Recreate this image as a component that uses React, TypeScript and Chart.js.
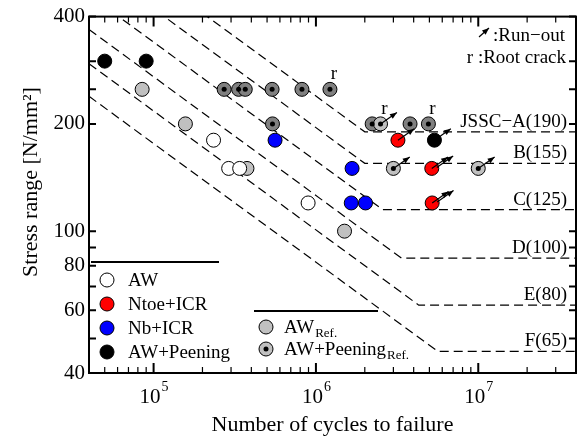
import React, { useEffect, useRef } from 'react';
import { Chart, registerables } from 'chart.js';

Chart.register(...registerables);

// ---------- data ----------
const awN = [2.34e5, 2.9e5, 3.39e5, 8.95e5];
const awS = [180, 150, 150, 120];
const ntoeN = [3.2e6, 5.17e6, 5.2e6];
const ntoeS = [180, 150, 120];
const nbN = [5.6e5, 1.67e6, 1.65e6, 2.02e6];
const nbS = [180, 150, 120, 120];
const peenN = [5e4, 9e4, 5.37e6];
const peenS = [300, 300, 180];
const awRefN = [8.5e4, 1.57e5, 3.76e5, 1.5e6];
const awRefS = [250, 200, 150, 100];
const peenRefN = [2.72e5, 3.34e5, 3.67e5, 5.37e5, 8.2e5, 1.22e6, 5.4e5, 2.22e6, 3.8e6, 4.93e6];
const peenRefS = [250, 250, 250, 250, 250, 250, 200, 200, 200, 200];
const peenRefRunN = [2.5e6, 3.0e6, 1.0e7];
const peenRefRunS = [200, 150, 150];

const runoutN = [3.2e6, 5.17e6, 5.2e6, 5.37e6, 2.5e6, 3.0e6, 1.0e7];
const runoutS = [180, 150, 120, 180, 200, 150, 150];
const runoutCount = [1, 2, 2, 1, 1, 1, 1];

const rootN = [1.22e6, 2.5e6, 4.93e6];
const rootS = [250, 200, 200];

const curveLabels = ['JSSC\u2212A(190)', 'B(155)', 'C(125)', 'D(100)', 'E(80)', 'F(65)'];
const curveStartN = 4e4;
const curveStartS = [700, 571, 460, 368, 295, 239];
const curveKneeN = [2e6, 2e6, 2.57e6, 3.37e6, 4.3e6, 5.64e6];
const curveCutoffS = [190, 155, 115, 84, 62, 46];
const curveEndN = 4e7;

const X_MIN = 4e4;
const X_MAX = 4e7;
const Y_MIN = 40;
const Y_MAX = 400;
const xLabelValues = [1e5, 1e6, 1e7];
const xLabelExps = ['5', '6', '7'];
const yTickValues = [40, 50, 60, 70, 80, 90, 100, 200, 250, 300, 400];
const yTickLabels = [40, 60, 80, 100, 200, 400];

const legend1Labels = ['AW', 'Ntoe+ICR', 'Nb+ICR', 'AW+Peening'];
const legend1Colors = ['#ffffff', '#ff0000', '#0000ff', '#000000'];
const legend2Labels = ['AW', 'AW+Peening'];
const legend2Sub = 'Ref.';
const yTitle = 'Stress range [N/mm\u00B2]';
const xTitle = 'Number of cycles to failure';

const FONT = '"Liberation Serif", "Times New Roman", serif';
const C_WHITE = '#ffffff';
const C_RED = '#ff0000';
const C_BLUE = '#0000ff';
const C_BLACK = '#000000';
const C_LGRAY = '#c0c0c0';
const C_DGRAY = '#808080';

const pts = (xs: number[], ys: number[]) => xs.map((x, i) => ({ x, y: ys[i] }));

function circle(ctx: CanvasRenderingContext2D, x: number, y: number, r: number, fill: string, dot: boolean) {
  ctx.beginPath();
  ctx.arc(x, y, r, 0, Math.PI * 2);
  ctx.fillStyle = fill;
  ctx.fill();
  ctx.lineWidth = 1;
  ctx.strokeStyle = '#000';
  ctx.stroke();
  if (dot) {
    ctx.beginPath();
    ctx.arc(x, y, 2.5, 0, Math.PI * 2);
    ctx.fillStyle = '#000';
    ctx.fill();
  }
}

function arrow(ctx: CanvasRenderingContext2D, x0: number, y0: number, x1: number, y1: number) {
  ctx.beginPath();
  ctx.moveTo(x0, y0);
  ctx.lineTo(x1, y1);
  ctx.lineWidth = 1.2;
  ctx.strokeStyle = '#000';
  ctx.setLineDash([]);
  ctx.stroke();
  const a = Math.atan2(y1 - y0, x1 - x0);
  const L = 7;
  const W = 2.8;
  ctx.beginPath();
  ctx.moveTo(x1, y1);
  ctx.lineTo(x1 - L * Math.cos(a) + W * Math.sin(a), y1 - L * Math.sin(a) - W * Math.cos(a));
  ctx.lineTo(x1 - L * Math.cos(a) - W * Math.sin(a), y1 - L * Math.sin(a) + W * Math.cos(a));
  ctx.closePath();
  ctx.fillStyle = '#000';
  ctx.fill();
}

const decorPlugin = {
  id: 'decor',
  afterDraw(chart: any) {
    const ctx: CanvasRenderingContext2D = chart.ctx;
    const xs = chart.scales.x;
    const ys = chart.scales.y;
    const { left, right, top, bottom } = chart.chartArea;
    ctx.save();
    ctx.setLineDash([]);

    // run-out arrows
    const ang = (35 * Math.PI) / 180;
    const len = 20;
    runoutN.forEach((n, i) => {
      const px = xs.getPixelForValue(n);
      const py = ys.getPixelForValue(runoutS[i]);
      for (let k = 0; k < runoutCount[i]; k++) {
        const ox = px + k * 5;
        const oy = py - k * 1;
        arrow(ctx, ox, oy, ox + len * Math.cos(ang), oy - len * Math.sin(ang));
      }
    });

    // root crack markers
    ctx.fillStyle = '#000';
    ctx.font = `19px ${FONT}`;
    ctx.textAlign = 'center';
    ctx.textBaseline = 'alphabetic';
    rootN.forEach((n, i) => {
      const px = xs.getPixelForValue(n);
      const py = ys.getPixelForValue(rootS[i]);
      ctx.fillText('r', px + 4, py - 10);
    });

    // design curve labels
    ctx.textAlign = 'right';
    ctx.font = `19px ${FONT}`;
    curveLabels.forEach((lab, i) => {
      const py = ys.getPixelForValue(curveCutoffS[i]);
      ctx.fillText(lab, right - 9, py - 5);
    });

    // frame
    ctx.strokeStyle = '#000';
    ctx.lineWidth = 2;
    ctx.strokeRect(left, top, right - left, bottom - top);

    // x ticks
    for (let d = 4; d <= 7; d++) {
      for (let k = 1; k <= 9; k++) {
        const v = k * Math.pow(10, d);
        if (v < X_MIN - 1 || v > X_MAX + 1) continue;
        const px = xs.getPixelForValue(v);
        const major = k === 1;
        const tl = major ? 10 : 6;
        ctx.lineWidth = major ? 2 : 1.2;
        ctx.beginPath();
        ctx.moveTo(px, bottom);
        ctx.lineTo(px, bottom - tl);
        ctx.moveTo(px, top);
        ctx.lineTo(px, top + tl);
        ctx.stroke();
      }
    }
    // y ticks
    yTickValues.forEach((v) => {
      const py = ys.getPixelForValue(v);
      ctx.lineWidth = 2;
      ctx.beginPath();
      ctx.moveTo(left, py);
      ctx.lineTo(left + 7, py);
      ctx.moveTo(right, py);
      ctx.lineTo(right - 7, py);
      ctx.stroke();
    });

    // x tick labels 10^n
    ctx.fillStyle = '#000';
    ctx.textAlign = 'left';
    ctx.textBaseline = 'alphabetic';
    xLabelValues.forEach((v, i) => {
      const px = xs.getPixelForValue(v);
      ctx.font = `21px ${FONT}`;
      const w1 = ctx.measureText('10').width;
      ctx.font = `14px ${FONT}`;
      const w2 = ctx.measureText(xLabelExps[i]).width;
      const x0 = px - (w1 + w2) / 2;
      ctx.font = `21px ${FONT}`;
      ctx.fillText('10', x0, bottom + 30);
      ctx.font = `14px ${FONT}`;
      ctx.fillText(xLabelExps[i], x0 + w1 + 1, bottom + 18);
    });

    // y title (rotated)
    ctx.save();
    ctx.translate(31, 182);
    ctx.rotate(-Math.PI / 2);
    ctx.font = `22px ${FONT}`;
    ctx.textAlign = 'center';
    ctx.textBaseline = 'middle';
    ctx.fillStyle = '#000';
    ctx.fillText(yTitle, 0, 0);
    ctx.restore();

    // legend 1
    ctx.lineWidth = 2;
    ctx.beginPath();
    ctx.moveTo(left + 2, 262);
    ctx.lineTo(219, 262);
    ctx.stroke();
    legend1Labels.forEach((lab, i) => {
      const cy = 280 + i * 24;
      circle(ctx, 107, cy, 7, legend1Colors[i], false);
      ctx.fillStyle = '#000';
      ctx.font = `19px ${FONT}`;
      ctx.textAlign = 'left';
      ctx.textBaseline = 'alphabetic';
      ctx.fillText(lab, 128, cy + 6);
    });

    // legend 2
    ctx.lineWidth = 2;
    ctx.beginPath();
    ctx.moveTo(254, 311);
    ctx.lineTo(378, 311);
    ctx.stroke();
    legend2Labels.forEach((lab, i) => {
      const cy = 327 + i * 22;
      circle(ctx, 266, cy, 7, C_LGRAY, i === 1);
      ctx.fillStyle = '#000';
      ctx.font = `19px ${FONT}`;
      ctx.textAlign = 'left';
      ctx.fillText(lab, 284, cy + 6);
      const w = ctx.measureText(lab).width;
      ctx.font = `13px ${FONT}`;
      ctx.fillText(legend2Sub, 284 + w + 1, cy + 10);
    });

    // annotation top-right
    arrow(ctx, 479, 37, 489, 28);
    ctx.fillStyle = '#000';
    ctx.font = `19px ${FONT}`;
    ctx.textAlign = 'right';
    ctx.textBaseline = 'alphabetic';
    ctx.fillText(':Run\u2212out', 565, 41);
    ctx.fillText('r :Root crack', 566, 63);

    ctx.restore();
  },
};

export default function App() {
  const ref = useRef<HTMLCanvasElement | null>(null);
  useEffect(() => {
    if (!ref.current) return;
    const curveSets = curveLabels.map((lab, i) => ({
      type: 'line' as const,
      label: lab,
      data: [
        { x: curveStartN, y: curveStartS[i] },
        { x: curveKneeN[i], y: curveCutoffS[i] },
        { x: curveEndN, y: curveCutoffS[i] },
      ],
      borderColor: '#000',
      borderWidth: 1.2,
      borderDash: [9, 5],
      pointRadius: 0,
      fill: false,
      tension: 0,
      order: 20,
    }));
    const pointSet = (label: string, data: any[], color: string, order: number) => ({
      type: 'scatter' as const,
      label,
      data,
      pointRadius: 7,
      pointBackgroundColor: color,
      pointBorderColor: '#000',
      pointBorderWidth: 1,
      showLine: false,
      order,
    });
    const dotData = [...pts(peenRefN, peenRefS), ...pts(peenRefRunN, peenRefRunS)];
    const chart = new Chart(ref.current, {
      type: 'scatter',
      data: {
        datasets: [
          {
            type: 'scatter',
            label: 'dots',
            data: dotData,
            pointRadius: 2.5,
            pointBackgroundColor: '#000',
            pointBorderWidth: 0,
            order: 0,
          } as any,
          pointSet('AW', pts(awN, awS), C_WHITE, 2),
          pointSet('Ntoe+ICR', pts(ntoeN, ntoeS), C_RED, 3),
          pointSet('Nb+ICR', pts(nbN, nbS), C_BLUE, 4),
          pointSet('AW+Peening', pts(peenN, peenS), C_BLACK, 5),
          pointSet('AW Ref.', pts(awRefN, awRefS), C_LGRAY, 6),
          pointSet('AW+Peening Ref.', pts(peenRefN, peenRefS), C_DGRAY, 7),
          pointSet('AW+Peening Ref. run-out', pts(peenRefRunN, peenRefRunS), C_LGRAY, 1),
          ...curveSets,
        ] as any,
      },
      options: {
        responsive: false,
        animation: false,
        events: [],
        layout: { padding: { top: 15, right: 10, left: 0, bottom: 0 } },
        plugins: { legend: { display: false }, tooltip: { enabled: false } },
        scales: {
          x: {
            type: 'logarithmic',
            min: X_MIN,
            max: X_MAX,
            grid: { display: false, drawTicks: false },
            border: { display: false },
            ticks: { display: false },
            title: {
              display: true,
              text: xTitle,
              color: '#000',
              font: { family: FONT, size: 22 },
              padding: { top: 0, bottom: 5 },
            },
            afterFit: (s: any) => {
              s.height = 70;
            },
          },
          y: {
            type: 'logarithmic',
            min: Y_MIN,
            max: Y_MAX,
            grid: { display: false, drawTicks: false },
            border: { display: false },
            afterBuildTicks: (s: any) => {
              s.ticks = yTickValues.map((v) => ({ value: v }));
            },
            ticks: {
              autoSkip: false,
              padding: 4,
              color: '#000',
              font: { family: FONT, size: 21 },
              callback: (v: any) => (yTickLabels.includes(Number(v)) ? String(v) : ''),
            },
            title: { display: false },
            afterFit: (s: any) => {
              s.width = 89;
            },
          },
        },
      } as any,
      plugins: [decorPlugin],
    });
    return () => chart.destroy();
  }, []);
  return (
    <div style={{ position: 'fixed', left: 0, top: 0, width: 586, height: 443, background: '#fff' }}>
      <canvas ref={ref} width={586} height={443} style={{ display: 'block', width: 586, height: 443 }} />
    </div>
  );
}
